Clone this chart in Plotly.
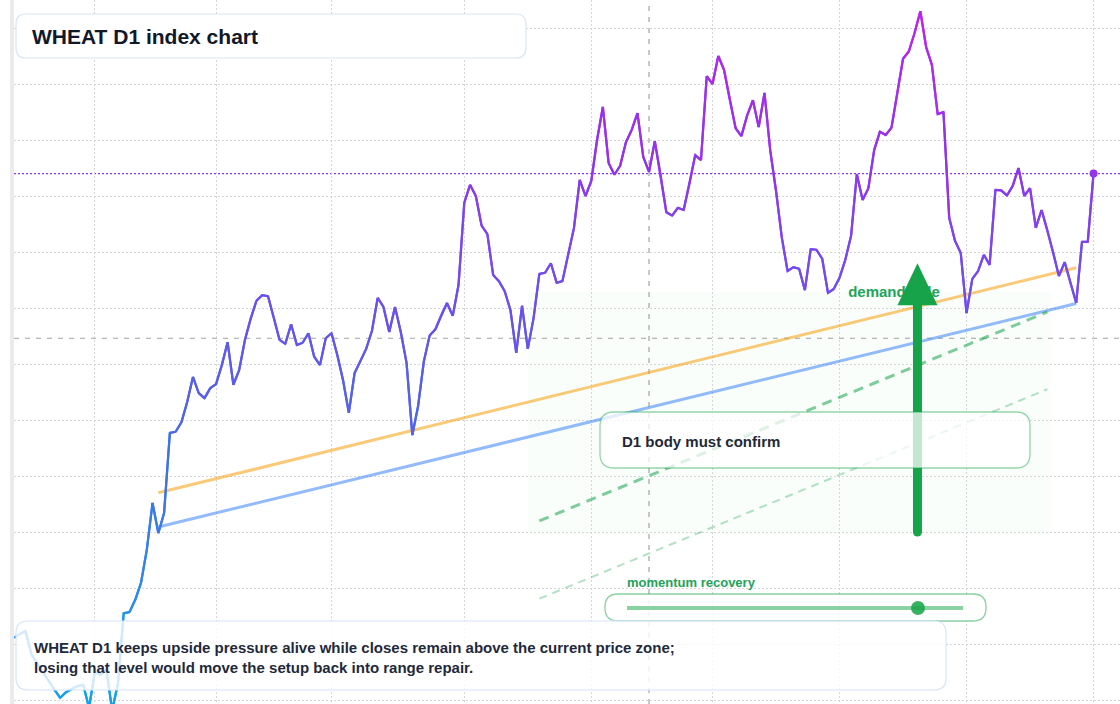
import pandas as pd
import plotly.graph_objects as go

# values (daily closes, business days)
dates = pd.bdate_range("2020-12-14", periods=188)
close = [
    611.1, 611.8, 612.3, 608.2, 606.6, 605.0, 603.4, 601.8, 600.4, 601.4,
    602.0, 602.5, 602.7, 598.6, 605.0, 604.5, 605.4, 598.2, 602.9, 615.5,
    615.7, 617.9, 620.9, 626.8, 635.2, 629.8, 633.4, 647.7, 647.9, 649.6,
    653.2, 657.7, 654.8, 653.9, 655.7, 656.4, 659.8, 663.9, 656.3, 658.9,
    664.3, 668.1, 671.3, 672.3, 672.1, 668.3, 664.3, 663.6, 667.1, 663.4,
    663.8, 665.5, 661.3, 659.8, 664.6, 665.5, 661.6, 657.1, 651.3, 658.4,
    660.5, 662.7, 665.9, 671.8, 670.2, 665.7, 670.2, 665.7, 660.2, 647.3,
    652.5, 660.5, 665.1, 666.2, 668.7, 670.9, 668.6, 674.1, 688.8, 692.0,
    690.0, 684.7, 683.2, 675.9, 674.8, 673.0, 669.6, 662.0, 670.4, 662.7,
    668.2, 676.1, 676.3, 678.0, 674.5, 674.8, 679.6, 684.3, 692.9, 690.0,
    692.7, 700.0, 705.9, 695.9, 693.8, 695.4, 699.6, 701.8, 704.8, 697.0,
    694.3, 699.8, 693.8, 687.1, 686.5, 687.9, 687.5, 692.1, 697.3, 696.4,
    711.4, 710.0, 715.0, 712.5, 707.1, 702.1, 700.7, 704.4, 707.1, 702.3,
    708.4, 698.1, 690.9, 682.6, 676.6, 677.3, 677.0, 673.2, 680.5, 680.4,
    678.8, 672.7, 673.4, 675.4, 678.6, 682.9, 693.9, 689.3, 691.4, 698.2,
    701.5, 700.9, 702.2, 708.3, 714.5, 715.8, 719.1, 723.0, 716.6, 713.4,
    704.6, 705.0, 686.1, 682.0, 679.8, 669.1, 675.2, 676.6, 679.5, 677.7,
    691.1, 691.0, 690.1, 691.8, 695.0, 690.0, 691.4, 684.3, 687.5, 683.9,
    680.0, 675.7, 678.2, 674.5, 670.9, 681.8, 681.8, 694.0,
]

month_starts = ["2021-01-01", "2021-02-01", "2021-03-01", "2021-04-01", "2021-05-03",
                "2021-06-01", "2021-07-01", "2021-08-02", "2021-09-01"]

support_dates = ["2021-01-18", "2021-08-27"]
support_values = [630.9, 670.8]
resistance_values = [637.0, 677.2]
channel_dates = ["2021-04-20", "2021-08-20"]
channel_mid = [632.0, 669.3]
channel_low = [618.1, 655.5]
zone_dates = ["2021-04-16", "2021-08-20 12:00"]
zone_values = [629.6, 672.9]
price_zone = 664.6
marker_date = "2021-05-17"
arrow_date = "2021-07-20 12:00"
arrow_values = [630.0, 678.0]
label_date = "2021-07-02 12:00"
label_value = 672.7

title_text = "WHEAT D1 index chart"
caption_text = ("WHEAT D1 keeps upside pressure alive while closes remain above the current price zone;<br>"
                "losing that level would move the setup back into range repair.")
confirm_text = "D1 body must confirm"
momentum_text = "momentum recovery"
demand_text = "demand side"

W, H, LEFT = 1120, 704, 14
Y_RANGE = [599.29, 725.0]
FONT = "Liberation Sans, Arial, sans-serif"
GREEN = "#16a34a"

line_stops = [(598, "#0ea5e9"), (622, "#2f86ea"), (640, "#3f72e8"), (655, "#5660e8"),
              (670, "#6a50ee"), (684, "#8044ef"), (696, "#9333ea"), (723, "#bb24f2")]


def hex_rgb(h):
    return [int(h[k:k + 2], 16) for k in (1, 3, 5)]


def color_at(v):
    if v <= line_stops[0][0]:
        return line_stops[0][1]
    for (v0, c0), (v1, c1) in zip(line_stops, line_stops[1:]):
        if v <= v1:
            t = (v - v0) / (v1 - v0)
            a, b = hex_rgb(c0), hex_rgb(c1)
            return "rgb({},{},{})".format(*[round(p + (q - p) * t) for p, q in zip(a, b)])
    return line_stops[-1][1]


def px_x(x):
    return (x - LEFT) / (W - LEFT)


def px_y(y):
    return 1 - y / H


def rounded(x0, y0, x1, y1, r):
    a, b, c, d = x0 - LEFT, -y0, x1 - LEFT, -y1
    return (f"M {a + r} {b} L {c - r} {b} Q {c} {b} {c} {b - r} "
            f"L {c} {d + r} Q {c} {d} {c - r} {d} L {a + r} {d} "
            f"Q {a} {d} {a} {d + r} L {a} {b - r} Q {a} {b} {a + r} {b} Z")


def panel(x0, y0, x1, y1, r, fill, edge, width=1.2):
    return dict(type="path", xref="paper", yref="paper", xsizemode="pixel", ysizemode="pixel",
                xanchor=0, yanchor=1, path=rounded(x0, y0, x1, y1, r),
                fillcolor=fill, line=dict(color=edge, width=width), layer="above")


fig = go.Figure()

# trend / channel lines
fig.add_trace(go.Scatter(x=support_dates, y=resistance_values, mode="lines",
                         line=dict(color="rgba(245,158,11,0.55)", width=3), hoverinfo="skip"))
fig.add_trace(go.Scatter(x=support_dates, y=support_values, mode="lines",
                         line=dict(color="rgba(59,130,246,0.55)", width=3), hoverinfo="skip"))
fig.add_trace(go.Scatter(x=channel_dates, y=channel_mid, mode="lines",
                         line=dict(color="rgba(22,163,74,0.55)", width=3, dash="10px,7px"),
                         hoverinfo="skip"))
fig.add_trace(go.Scatter(x=channel_dates, y=channel_low, mode="lines",
                         line=dict(color="rgba(22,163,74,0.32)", width=2, dash="8px,6px"),
                         hoverinfo="skip"))

# price line, coloured by level
for i in range(len(close) - 1):
    mid = (close[i] + close[i + 1]) / 2
    fig.add_trace(go.Scatter(x=dates[i:i + 3], y=close[i:i + 3], mode="lines",
                             line=dict(color=color_at(mid), width=2.2), hoverinfo="skip"))

fig.add_trace(go.Scatter(x=[dates[-1]], y=[close[-1]], mode="markers",
                         marker=dict(color="#9333ea", size=8), hoverinfo="skip"))

fig.add_trace(go.Scatter(x=[label_date], y=[label_value], mode="text", text=[f"<b>{demand_text}</b>"],
                         textposition="middle right",
                         textfont=dict(family=FONT, size=15, color="#22a35a"), hoverinfo="skip"))

units_per_px = (Y_RANGE[1] - Y_RANGE[0]) / H
head_len, head_half = 42, 20

shapes = [
    dict(type="rect", xref="x", yref="y", x0=zone_dates[0], x1=zone_dates[1],
         y0=zone_values[0], y1=zone_values[1], fillcolor="rgba(34,197,94,0.022)",
         line=dict(width=0), layer="below"),
    dict(type="line", xref="paper", yref="y", x0=0, x1=1, y0=price_zone, y1=price_zone,
         line=dict(color="#a3a3a3", width=1.2, dash="5px,6px"), layer="between"),
    dict(type="line", xref="x", yref="paper", x0=marker_date, x1=marker_date, y0=0, y1=1,
         line=dict(color="#a3a3a3", width=1.2, dash="5px,6px"), layer="between"),
    dict(type="line", xref="paper", yref="y", x0=0, x1=1, y0=close[-1], y1=close[-1],
         line=dict(color="#9333ea", width=1.2, dash="2px,2px"), layer="between"),
    # left edge strip
    dict(type="rect", xref="paper", yref="paper", xsizemode="pixel", xanchor=0,
         x0=-4, x1=0, y0=0, y1=1, fillcolor="#ebebeb", line=dict(width=0), layer="above"),
    # arrow
    dict(type="line", xref="x", yref="y", x0=arrow_date, x1=arrow_date,
         y0=arrow_values[0], y1=arrow_values[1] - (head_len - 3) * units_per_px,
         line=dict(color=GREEN, width=9), layer="above"),
    dict(type="circle", xref="x", yref="y", xsizemode="pixel", ysizemode="pixel",
         xanchor=arrow_date, yanchor=arrow_values[0], x0=-4.5, x1=4.5, y0=-4.5, y1=4.5,
         fillcolor=GREEN, line=dict(width=0), layer="above"),
    dict(type="path", xref="x", yref="y", xsizemode="pixel", ysizemode="pixel",
         xanchor=arrow_date, yanchor=arrow_values[1],
         path=f"M {-head_half} {-head_len} L {head_half} {-head_len} L 0 0 Z",
         fillcolor=GREEN, line=dict(width=0), layer="above"),
    # panels
    panel(600, 412, 1030, 468, 14, "rgba(255,255,255,0.74)", "rgba(22,163,74,0.45)", 1.3),
    panel(605, 594, 986, 621, 13, "rgba(255,255,255,0.85)", "rgba(22,163,74,0.5)", 1.3),
    dict(type="line", xref="paper", yref="paper", x0=px_x(627), x1=px_x(963),
         y0=px_y(608), y1=px_y(608), line=dict(color="rgba(22,163,74,0.5)", width=4),
         layer="above"),
    dict(type="circle", xref="paper", yref="paper", xsizemode="pixel", ysizemode="pixel",
         xanchor=px_x(918), yanchor=px_y(608), x0=-7, x1=7, y0=-7, y1=7,
         fillcolor="rgba(22,163,74,0.85)", line=dict(width=0), layer="above"),
    panel(16, 14, 526, 58, 10, "#ffffff", "#dbe5f4", 1.2),
    panel(16, 621, 946, 690, 12, "rgba(255,255,255,0.8)", "#d6e4fa", 1.2),
]

annotations = [
    dict(x=px_x(30), y=px_y(36), text=f"<b>{title_text}</b>",
         font=dict(family=FONT, size=21, color="#111827")),
    dict(x=px_x(31.5), y=px_y(657), text=f"<b>{caption_text}</b>", align="left",
         font=dict(family=FONT, size=15, color="#1e293b")),
    dict(x=px_x(620), y=px_y(441), text=f"<b>{confirm_text}</b>",
         font=dict(family=FONT, size=15, color="#1f2937")),
    dict(x=px_x(625), y=px_y(582.5), text=f"<b>{momentum_text}</b>",
         font=dict(family=FONT, size=13, color="#22a35a")),
]
for a in annotations:
    a.update(xref="paper", yref="paper", xanchor="left", yanchor="middle", showarrow=False)

fig.update_layout(
    width=W, height=H,
    margin=dict(l=LEFT, r=0, t=0, b=0),
    paper_bgcolor="white", plot_bgcolor="white",
    showlegend=False,
    hovermode=False,
    shapes=shapes,
    annotations=annotations,
    xaxis=dict(type="date", range=["2020-12-14", "2021-09-07 14:00"],
               rangebreaks=[dict(bounds=["sat", "mon"])],
               tickvals=month_starts, showticklabels=False, ticks="",
               showgrid=True, gridcolor="#d4d6da", griddash="2px,2px", gridwidth=1,
               zeroline=False, showline=False, automargin=False),
    yaxis=dict(range=Y_RANGE, tick0=600, dtick=10, showticklabels=False, ticks="",
               showgrid=True, gridcolor="#d4d6da", griddash="2px,2px", gridwidth=1,
               zeroline=False, showline=False, automargin=False),
)

fig.write_html("out.html", config={"displayModeBar": False},
               post_script="document.body.style.margin='0px';")
